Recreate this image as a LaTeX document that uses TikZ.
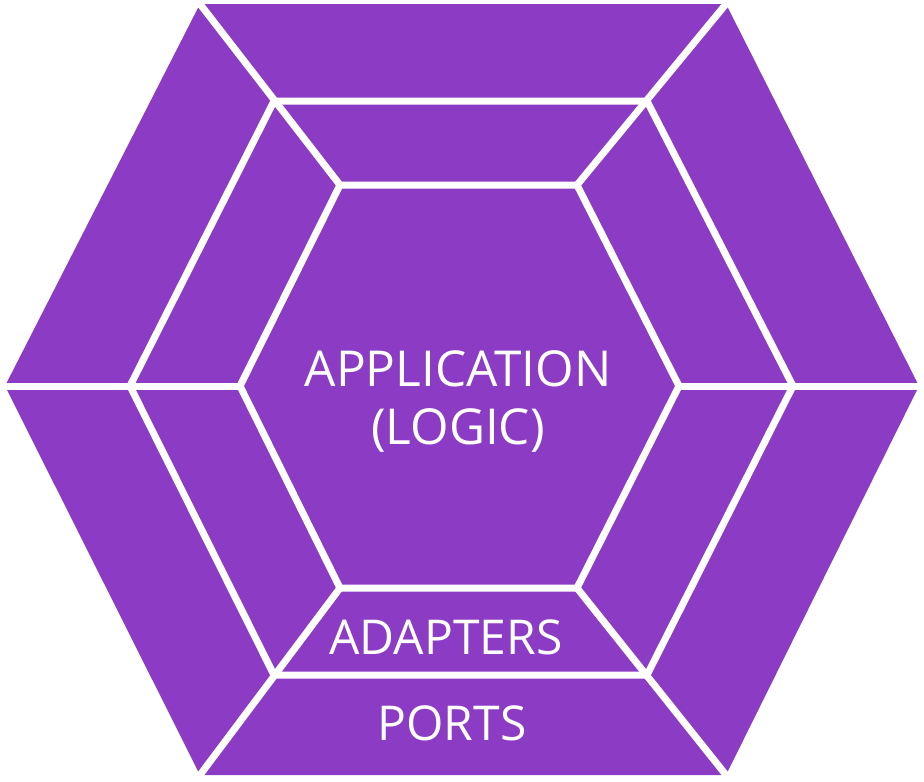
\documentclass[tikz,border=0pt]{standalone}
\usepackage{fontspec}
\setmainfont{Open Sans}
\definecolor{hexpurple}{RGB}{140,60,196}
\begin{document}
\begin{tikzpicture}[x=1pt,y=-1pt,
  sep/.style={draw=white,line width=7pt,line cap=butt,line join=miter},
  lbl/.style={text=white,font=\fontsize{49.5}{58}\selectfont,align=center,inner sep=0pt}]
\useasboundingbox (0,0) rectangle (924,782);
% outer hexagon
\coordinate (oTL) at (200,4);
\coordinate (oTR) at (726,4);
\coordinate (oR) at (919,386);
\coordinate (oBR) at (726,775);
\coordinate (oBL) at (200,775);
\coordinate (oL) at (5,386);
% middle hexagon
\coordinate (mTL) at (274,101);
\coordinate (mTR) at (647,101);
\coordinate (mR) at (793,386);
\coordinate (mBR) at (647,675);
\coordinate (mBL) at (274,675);
\coordinate (mL) at (130,386);
% inner hexagon
\coordinate (iTL) at (340,185);
\coordinate (iTR) at (577,185);
\coordinate (iR) at (679,386);
\coordinate (iBR) at (577,588);
\coordinate (iBL) at (340,588);
\coordinate (iL) at (240,386);
\fill[hexpurple] (oTL) -- (oTR) -- (oR) -- (oBR) -- (oBL) -- (oL) -- cycle;
\draw[sep] (mTL) -- (mTR) -- (mR) -- (mBR) -- (mBL) -- (mL) -- cycle;
\draw[sep] (iTL) -- (iTR) -- (iR) -- (iBR) -- (iBL) -- (iL) -- cycle;
\draw[sep] (oTL) -- (iTL);
\draw[sep] (oTR) -- (iTR);
\draw[sep] (oBL) -- (iBL);
\draw[sep] (oBR) -- (iBR);
\draw[sep] (oL) -- (iL);
\draw[sep] (oR) -- (iR);
\node[lbl] (app) at (458,401) {APPLICATION\\(LOGIC)};
\node[lbl,font=\fontsize{48}{56}\selectfont] (adp) at (446,637) {ADAPTERS};
\node[lbl,font=\fontsize{48}{56}\selectfont] (prt) at (452,723) {PORTS};
\end{tikzpicture}
\end{document}
